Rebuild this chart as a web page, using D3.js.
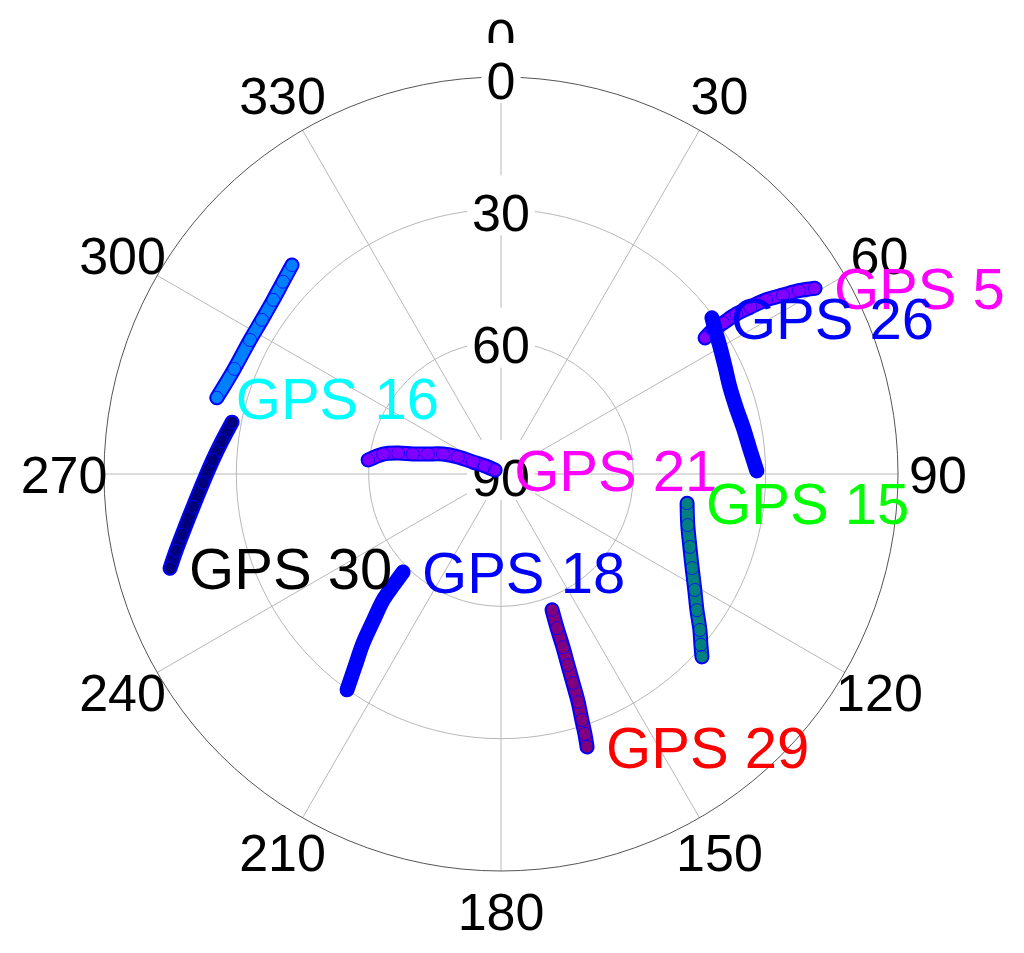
<!DOCTYPE html>
<html>
<head>
<meta charset="utf-8">
<script src="https://cdn.jsdelivr.net/npm/d3@7"></script>
<style>
  body { margin: 0; background: #fff; }
  svg { display: block; font-family: "Liberation Sans", Arial, sans-serif; }
</style>
</head>
<body>
<div id="wrap"></div>
<script>
//  Sky plot of GPS satellite tracks (azimuth in degrees, elevation in degrees)
//  each track is [azimuth, elevation], first point is where the name goes

const satNames = ["GPS 5", "GPS 26", "GPS 16", "GPS 21", "GPS 15", "GPS 30", "GPS 18", "GPS 29"];
const satColors = ["#ff00ff", "#0000ff", "#00ffff", "#ff00ff", "#00ff00", "#000000", "#0000ff", "#ff0000"];

const gps5 = [[59.4, 7.3], [58.4, 10.7], [57.6, 14.3], [56.7, 18.1], [56.2, 22.0], [55.8, 25.5], [55.8, 29.1], [55.8, 31.9], [56.3, 34.4]];
const gps26 = [[53.5, 30.5], [56.7, 31.7], [59.9, 32.6], [64.5, 33.7], [69.2, 34.5], [74.1, 34.6], [79.0, 34.1], [84.3, 33.3], [89.3, 32.0]];
const gps16 = [[285.0, 23.3], [291.5, 25.0], [298.1, 25.5], [302.8, 25.5], [307.4, 25.0], [311.4, 24.1], [315.0, 23.0]];
const gps21 = [[303.7, 88.4], [296.6, 85.9], [293.2, 83.1], [291.6, 79.5], [289.0, 76.1], [285.3, 72.8], [282.8, 69.5], [281.5, 66.2], [279.6, 62.9], [276.0, 59.7]];
const gps15 = [[98.9, 47.3], [105.3, 46.1], [111.1, 44.1], [116.2, 41.7], [120.9, 38.8], [124.8, 35.9], [128.1, 32.7], [130.5, 30.4], [132.3, 28.4]];
const gps30 = [[254.1, 12.0], [256.7, 14.3], [259.2, 16.4], [263.9, 19.8], [268.3, 22.4], [272.8, 24.6], [276.7, 26.3], [280.9, 27.9]];
const gps18 = [[225.0, 58.6], [224.0, 54.7], [223.1, 50.9], [221.0, 45.8], [219.2, 40.5], [217.2, 35.3], [215.5, 29.9]];
const gps29 = [[162.5, 25.1], [162.1, 28.1], [161.8, 31.3], [161.3, 35.4], [161.0, 39.9], [160.7, 44.1], [160.3, 48.3], [160.0, 52.8], [159.4, 57.1]];
const tracks = [gps5, gps26, gps16, gps21, gps15, gps30, gps18, gps29];

const azimuthTicks = [0, 30, 60, 90, 120, 150, 180, 210, 240, 270, 300, 330];
const elevationTicks = [0, 30, 60, 90];

//  Base setup
const width = 1024, height = 953;
const cx = 501, cy = 474, radius = 397;

const r = d3.scaleLinear().domain([90, 0]).range([0, radius]);
const a = d3.scaleLinear().domain([0, 360]).range([0, 2 * Math.PI]);

//  convert azimuth / elevation to screen x,y
function px(az, el) {
  return r(el) * Math.sin(a(az));
}
function py(az, el) {
  return -r(el) * Math.cos(a(az));
}

const svg = d3
  .select("#wrap")
  .append("svg")
  .attr("width", width)
  .attr("height", height)
  .append("g")
  .attr("transform", "translate(" + cx + "," + cy + ")");

//  Grid: spokes and elevation rings
svg
  .selectAll(".spoke")
  .data(azimuthTicks)
  .enter()
  .append("line")
  .attr("class", "spoke")
  .attr("x1", 0)
  .attr("y1", 0)
  .attr("x2", (d) => px(d, 0))
  .attr("y2", (d) => py(d, 0))
  .attr("stroke", "#b8b8b8")
  .attr("stroke-width", 1);

svg
  .selectAll(".ring")
  .data(elevationTicks.filter((d) => d < 90))
  .enter()
  .append("circle")
  .attr("class", "ring")
  .attr("r", (d) => r(d))
  .attr("fill", "none")
  .attr("stroke", (d) => (d === 0 ? "#555" : "#b8b8b8"))
  .attr("stroke-width", 1);

//  Azimuth labels round the outside
svg
  .selectAll(".azLabel")
  .data(azimuthTicks)
  .enter()
  .append("text")
  .attr("class", "azLabel")
  .attr("x", (d) => (px(d, 0) * 437) / radius)
  .attr("y", (d) => (py(d, 0) * 437) / radius)
  .attr("dy", "0.36em")
  .attr("text-anchor", "middle")
  .style("font-size", "52px")
  .text((d) => d);

//  Elevation labels sit on the vertical axis with a white box behind them
//  (the box hides the lower half of the azimuth 0, like the original)
const elLabels = svg
  .selectAll(".elLabel")
  .data(elevationTicks)
  .enter()
  .append("g")
  .attr("class", "elLabel")
  .attr("transform", (d) => "translate(0," + (-r(d) + 3) + ")");

elLabels
  .append("text")
  .attr("text-anchor", "middle")
  .attr("dy", "0.36em")
  .style("font-size", "52px")
  .text((d) => d);

elLabels.each(function () {
  const g = d3.select(this);
  const b = g.select("text").node().getBBox();
  g.insert("rect", "text")
    .attr("x", b.x - 5)
    .attr("y", -37)
    .attr("width", b.width + 10)
    .attr("height", 60)
    .attr("fill", "#fff");
});

//  Satellite tracks
const line = d3
  .line()
  .x((d) => px(d[0], d[1]))
  .y((d) => py(d[0], d[1]))
  .curve(d3.curveCatmullRom);

tracks.forEach((track, i) => {
  const g = svg.append("g").attr("class", "track");

  g.append("path")
    .attr("d", line(track))
    .attr("fill", "none")
    .attr("stroke", "#0000ff")
    .attr("stroke-width", 15)
    .attr("stroke-linecap", "round");

  g.append("path")
    .attr("d", line(track))
    .attr("fill", "none")
    .attr("stroke", satColors[i])
    .attr("stroke-opacity", 0.5)
    .attr("stroke-width", 11)
    .attr("stroke-linecap", "round");

  g.selectAll("circle")
    .data(track)
    .enter()
    .append("circle")
    .attr("cx", (d) => px(d[0], d[1]))
    .attr("cy", (d) => py(d[0], d[1]))
    .attr("r", 6.5)
    .attr("fill", "none")
    .attr("stroke", "#0000ff")
    .attr("stroke-opacity", 0.8)
    .attr("stroke-width", 1);
});

//  Names next to the first point of each track
svg
  .selectAll(".satLabel")
  .data(tracks)
  .enter()
  .append("text")
  .attr("class", "satLabel")
  .attr("x", (d) => px(d[0][0], d[0][1]) + 19)
  .attr("y", (d) => py(d[0][0], d[0][1]))
  .attr("dy", "0.36em")
  .style("font-size", "58px")
  .attr("fill", (d, i) => satColors[i])
  .text((d, i) => satNames[i]);
</script>
</body>
</html>
